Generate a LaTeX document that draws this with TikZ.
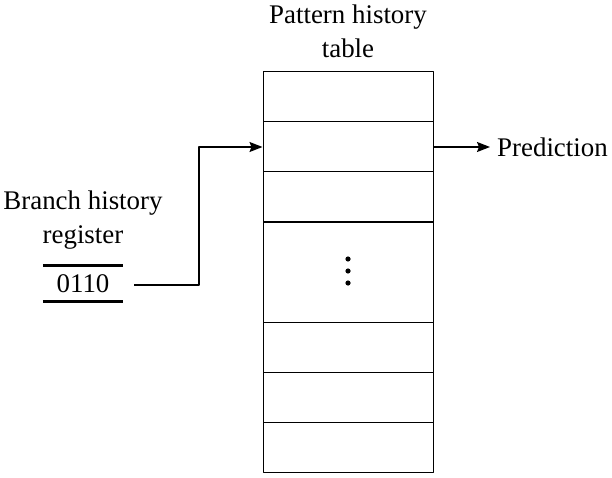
\documentclass[tikz,border=0pt]{standalone}
\usepackage{fontspec}
\setmainfont{Liberation Serif}
\usepackage{tikz}
\usetikzlibrary{arrows.meta,positioning}

\tikzset{
  cell/.style={draw,line width=1bp,minimum width=170bp,minimum height=50bp,inner sep=0pt},
  lbl/.style={align=center,inner sep=0pt,font=\fontsize{27}{34}\selectfont},
  link/.style={-{Stealth[length=13bp,width=10bp,inset=2bp]},line width=1.5bp},
}

\begin{document}
\begin{tikzpicture}[x=1bp,y=-1bp,line join=bevel]
  \useasboundingbox (0,0) rectangle (612,478);
  % Node: table rows
  \node[cell] (row1) at (348,97) {};
  \node[cell] (row2) at (348,147) {};
  \node[cell] (row3) at (348,197) {};
  \node[cell,minimum height=100bp] (row4) at (348,272) {};
  \node[cell] (row5) at (348,347) {};
  \node[cell] (row6) at (348,397) {};
  \node[cell] (row7) at (348,447) {};
  % dots
  \fill (348,259) circle (2.6bp) (348,271) circle (2.6bp) (348,283) circle (2.6bp);
  % Node: titles
  \node[lbl] (pht) at (348,31) {Pattern history\\table};
  \node[lbl] (bhr) at (83,220) {Branch history\\register};
  % Node: register
  \node[lbl,minimum width=80bp,minimum height=35bp] (reg) at (83,283.5) {0110};
  \draw[line width=3bp] (reg.north west) -- (reg.north east);
  \draw[line width=3bp] (reg.south west) -- (reg.south east);
  % Node: prediction
  \node[lbl,anchor=west] (pred) at (497,147) {Prediction};
  % Edge: reg -> row2
  \draw[link] ([xshift=11bp,yshift=-1.5bp]reg.east) -- ++(65,0) |- (row2.west);
  % Edge: row2 -> pred
  \draw[link] (row2.east) -- ([xshift=-7bp]pred.west);
\end{tikzpicture}
\end{document}
